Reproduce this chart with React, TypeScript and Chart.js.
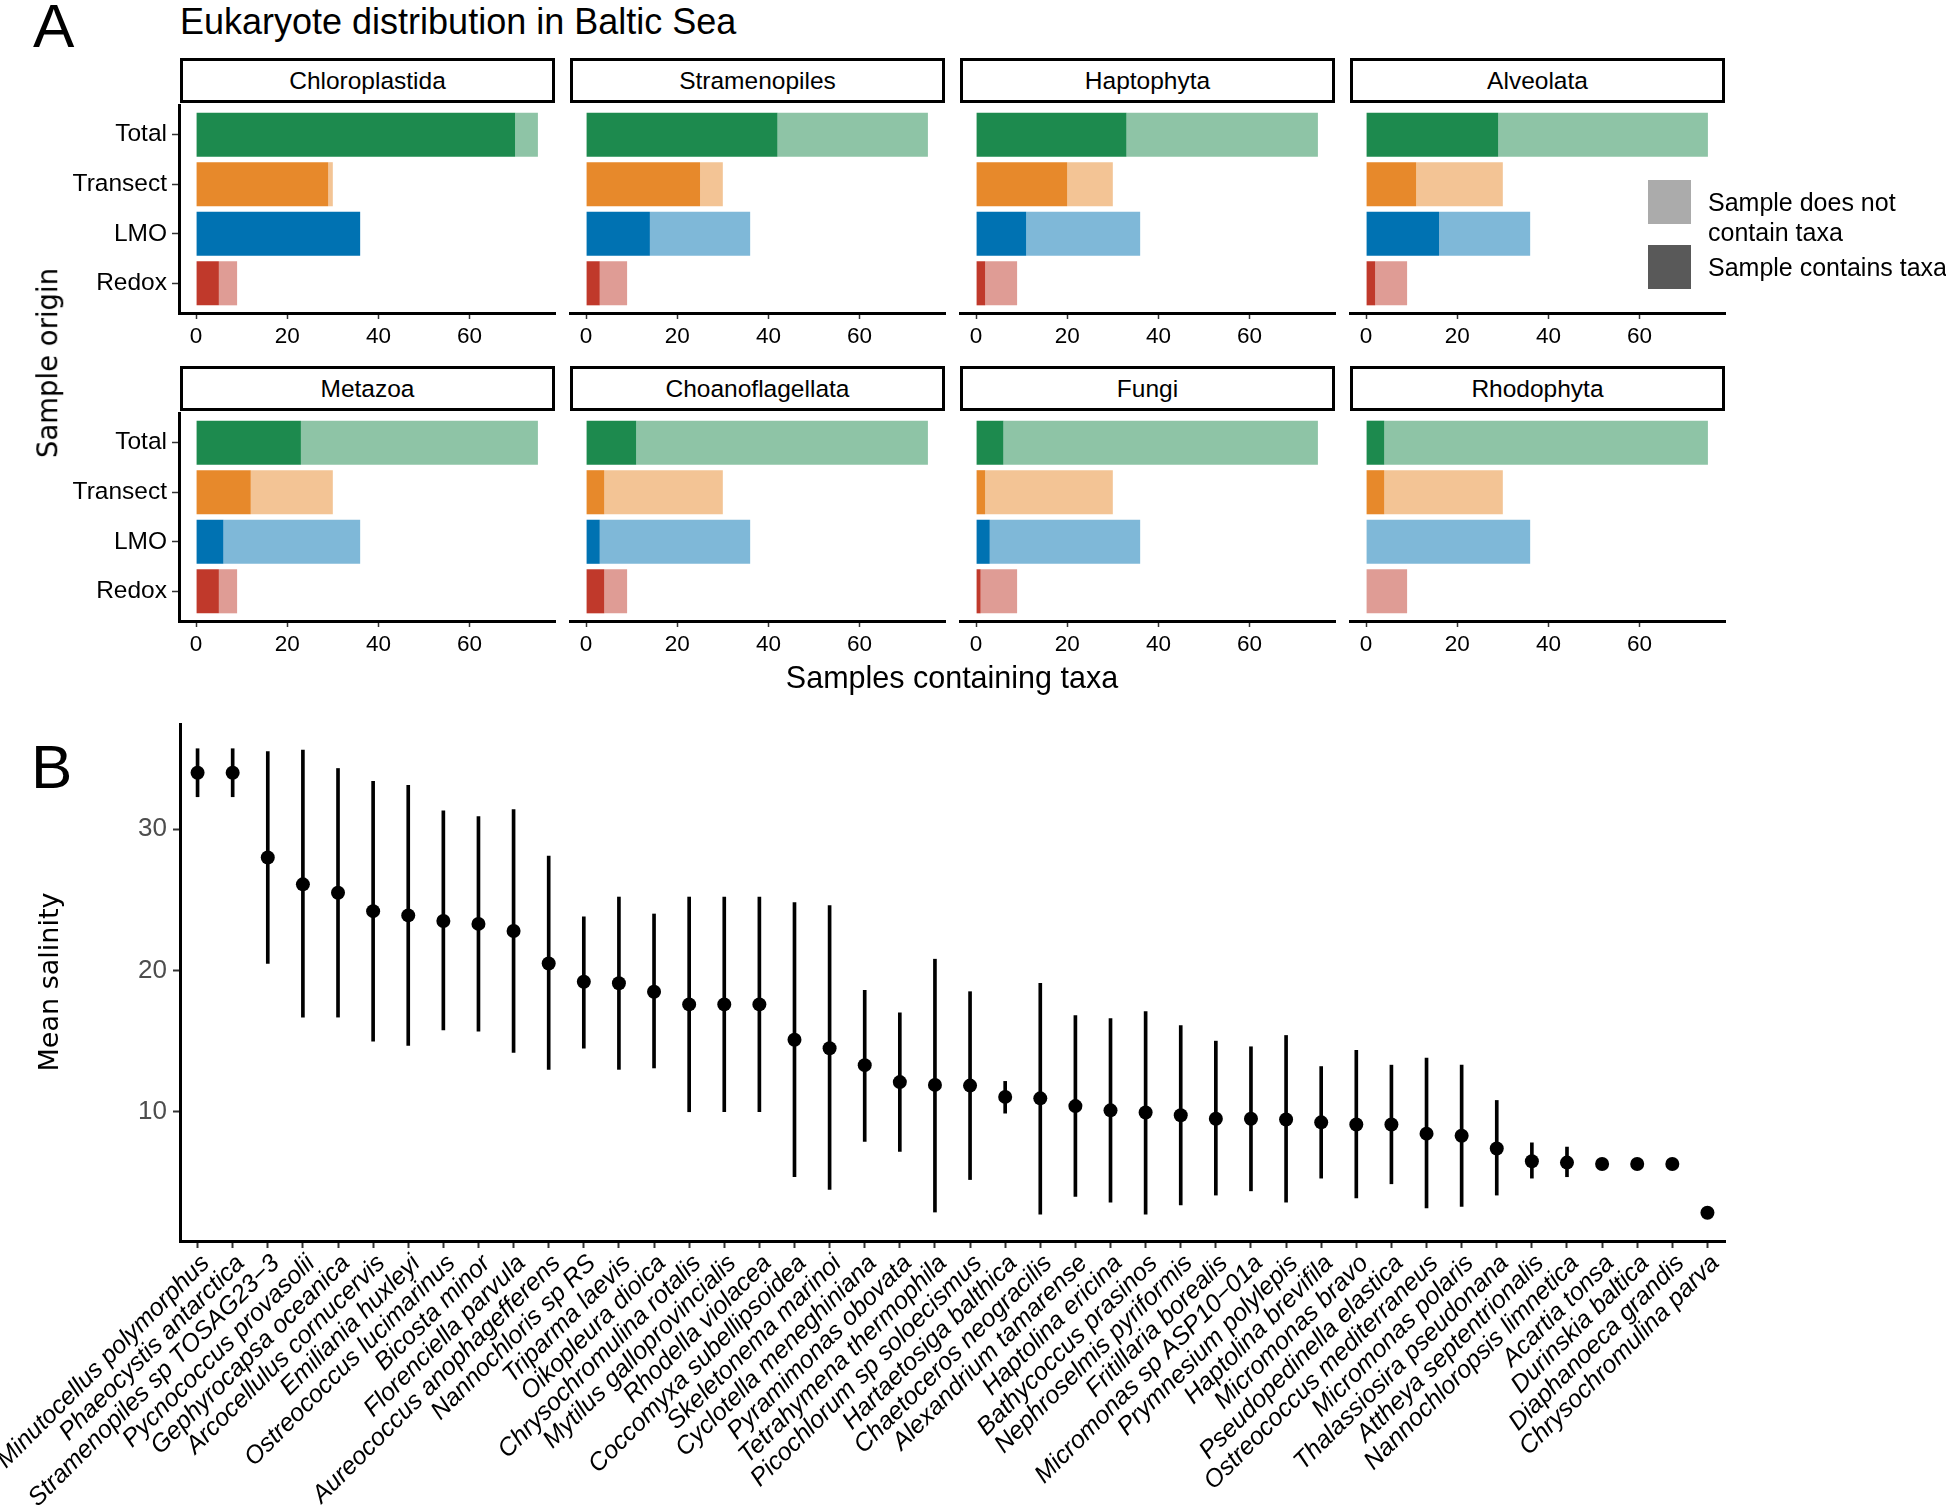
import React, { useEffect, useRef } from 'react';
import { Chart, registerables } from 'chart.js';

Chart.register(...registerables);

const SANS = '"Liberation Sans", Arial, Helvetica, sans-serif';
const DEJAVU = '"DejaVu Sans", sans-serif';

// ---------------- Panel A data ----------------
const taxa = ['Chloroplastida', 'Stramenopiles', 'Haptophyta', 'Alveolata', 'Metazoa', 'Choanoflagellata', 'Fungi', 'Rhodophyta'];
const origins = ['Total', 'Transect', 'LMO', 'Redox'];
const samplesPerOrigin = [75, 30, 36, 9];
const chloroplastidaPresent = [70, 29, 36, 5];
const stramenopilesPresent = [42, 25, 14, 3];
const haptophytaPresent = [33, 20, 11, 2];
const alveolataPresent = [29, 11, 16, 2];
const metazoaPresent = [23, 12, 6, 5];
const choanoflagellataPresent = [11, 4, 3, 4];
const fungiPresent = [6, 2, 3, 1];
const rhodophytaPresent = [4, 4, 0, 0];
const countTicks = [0, 20, 40, 60];
const presentByTaxon = [
  chloroplastidaPresent, stramenopilesPresent, haptophytaPresent, alveolataPresent,
  metazoaPresent, choanoflagellataPresent, fungiPresent, rhodophytaPresent,
];

// ---------------- Panel B data ----------------
const species = [
  'Minutocellus polymorphus', 'Phaeocystis antarctica', 'Stramenopiles sp TOSAG23\u22123', 'Pycnococcus provasolii',
  'Gephyrocapsa oceanica', 'Arcocellulus cornucervis', 'Emiliania huxleyi', 'Ostreococcus lucimarinus',
  'Bicosta minor', 'Florenciella parvula', 'Aureococcus anophagefferens', 'Nannochloris sp RS',
  'Triparma laevis', 'Oikopleura dioica', 'Chrysochromulina rotalis', 'Mytilus galloprovincialis',
  'Rhodella violacea', 'Coccomyxa subellipsoidea', 'Skeletonema marinoi', 'Cyclotella meneghiniana',
  'Pyramimonas obovata', 'Tetrahymena thermophila', 'Picochlorum sp soloecismus', 'Hartaetosiga balthica',
  'Chaetoceros neogracilis', 'Alexandrium tamarense', 'Haptolina ericina', 'Bathycoccus prasinos',
  'Nephroselmis pyriformis', 'Fritillaria borealis', 'Micromonas sp ASP10\u221201a', 'Prymnesium polylepis',
  'Haptolina brevifila', 'Micromonas bravo', 'Pseudopedinella elastica', 'Ostreococcus mediterraneus',
  'Micromonas polaris', 'Thalassiosira pseudonana', 'Attheya septentrionalis', 'Nannochloropsis limnetica',
  'Acartia tonsa', 'Durinskia baltica', 'Diaphanoeca grandis', 'Chrysochromulina parva',
];
const meanSalinity = [
  34.0, 34.0, 28.0, 26.1, 25.5, 24.2, 23.9, 23.5, 23.3, 22.8,
  20.5, 19.2, 19.1, 18.5, 17.6, 17.6, 17.6, 15.1, 14.5, 13.3,
  12.1, 11.9, 11.85, 11.05, 10.95, 10.4, 10.1, 9.95, 9.75, 9.5,
  9.5, 9.45, 9.25, 9.1, 9.1, 8.45, 8.3, 7.4, 6.5, 6.4,
  6.3, 6.3, 6.3, 2.85,
];
const salinityLow = [
  32.3, 32.3, 20.5, 16.7, 16.7, 15.0, 14.7, 15.8, 15.7, 14.2,
  13.0, 14.5, 13.0, 13.1, 10.0, 10.0, 10.0, 5.4, 4.5, 7.9,
  7.2, 2.9, 5.2, 9.9, 2.75, 4.0, 3.6, 2.75, 3.4, 4.1,
  4.4, 3.6, 5.3, 3.9, 4.9, 3.2, 3.3, 4.1, 5.3, 5.4,
  null, null, null, null,
];
const salinityHigh = [
  35.7, 35.7, 35.5, 35.6, 34.3, 33.4, 33.1, 31.3, 30.9, 31.4,
  28.1, 23.8, 25.2, 24.0, 25.2, 25.2, 25.2, 24.8, 24.6, 18.6,
  17.0, 20.8, 18.5, 12.15, 19.1, 16.8, 16.6, 17.1, 16.1, 15.0,
  14.6, 15.4, 13.2, 14.35, 13.3, 13.8, 13.3, 10.8, 7.8, 7.5,
  null, null, null, null,
];
const salinityTicks = [10, 20, 30];

// ---------------- styles ----------------
const darkColors = ['#1d8a4e', '#e7892b', '#0072b2', '#c0392b'];
const lightColors = ['#8ec4a6', '#f3c495', '#7fb8d8', '#df9c95'];

const PANEL_W = 376;
const PANEL_H = 208;
const TOP_PAD = 26;
const X_AXIS_H = 45;

function Facet({ index }: { index: number }) {
  const ref = useRef<HTMLCanvasElement>(null);
  const col = index % 4;
  const row = Math.floor(index / 4);
  const panelLeft = Math.round(178.5 + col * 390.3);
  const stripBottom = row === 0 ? 103 : 411;
  const areaTop = stripBottom + 2;
  const showY = col === 0;
  const yW = showY ? 150 : 0;
  const canvasLeft = panelLeft - yW;
  const width = yW + PANEL_W + 20;
  const height = TOP_PAD + PANEL_H + X_AXIS_H;
  const present = presentByTaxon[index];

  useEffect(() => {
    const chart = new Chart(ref.current as HTMLCanvasElement, {
      type: 'bar',
      data: {
        datasets: [
          {
            data: origins.map((_, i) => ({ x: [0, present[i]], y: i })) as any,
            backgroundColor: darkColors,
            borderWidth: 0,
            grouped: false,
            categoryPercentage: 1,
            barPercentage: 0.89,
            order: 0,
          } as any,
          {
            data: origins.map((_, i) => ({ x: [present[i], samplesPerOrigin[i]], y: i })) as any,
            backgroundColor: lightColors,
            borderWidth: 0,
            grouped: false,
            categoryPercentage: 1,
            barPercentage: 0.89,
            order: 1,
          } as any,
        ],
      },
      options: {
        indexAxis: 'y',
        animation: false,
        responsive: false,
        maintainAspectRatio: false,
        events: [],
        layout: { padding: { left: 0, right: 20, top: TOP_PAD, bottom: 0 } },
        plugins: { legend: { display: false }, tooltip: { enabled: false } },
        scales: {
          x: {
            type: 'linear',
            min: -3.75,
            max: 78.75,
            afterBuildTicks: (s: any) => { s.ticks = countTicks.map((v) => ({ value: v })); },
            afterFit: (s: any) => { s.height = X_AXIS_H; },
            grid: { drawOnChartArea: false, drawTicks: true, tickLength: 6, tickColor: '#333', tickWidth: 1.5 },
            border: { display: true, color: '#000', width: 3 },
            ticks: { color: '#000', font: { family: SANS, size: 22.5 }, padding: 4, maxRotation: 0 },
          },
          y: {
            type: 'linear',
            reverse: true,
            offset: false,
            min: -0.6,
            max: 3.6,
            display: showY,
            afterBuildTicks: (s: any) => { s.ticks = origins.map((_, i) => ({ value: i })); },
            afterFit: (s: any) => { s.width = yW; },
            grid: { drawOnChartArea: false, drawTicks: true, tickLength: 7, tickColor: '#333', tickWidth: 1.5, offset: false },
            border: { display: true, color: '#000', width: 3 },
            ticks: {
              color: '#000',
              font: { family: SANS, size: 24.5 },
              padding: 5,
              callback: (v: any) => origins[Math.round(Number(v))],
            },
          },
        },
      } as any,
    });
    return () => chart.destroy();
  }, []);

  return (
    <>
      <canvas
        ref={ref}
        width={width}
        height={height}
        style={{ position: 'absolute', left: canvasLeft, top: areaTop - TOP_PAD, width, height, display: 'block' }}
      />
      <div
        style={{
          position: 'absolute',
          left: panelLeft + 1,
          top: stripBottom - 45,
          width: PANEL_W - 1,
          height: 45,
          border: '3px solid #000',
          boxSizing: 'border-box',
          display: 'flex',
          alignItems: 'center',
          justifyContent: 'center',
          fontFamily: SANS,
          fontSize: 24.5,
          color: '#000',
          background: '#fff',
        }}
      >
        {taxa[index]}
      </div>
    </>
  );
}

function SalinityChart() {
  const ref = useRef<HTMLCanvasElement>(null);
  const W = 1966;
  const H = 816;
  useEffect(() => {
    const chart = new Chart(ref.current as HTMLCanvasElement, {
      type: 'bar',
      data: {
        labels: species,
        datasets: [
          {
            type: 'line',
            data: meanSalinity,
            showLine: false,
            pointRadius: 7,
            pointBackgroundColor: '#000',
            pointBorderWidth: 0,
            pointBorderColor: '#000',
            order: 0,
          } as any,
          {
            type: 'bar',
            data: species.map((_, i) =>
              salinityLow[i] == null ? null : [salinityLow[i], salinityHigh[i]]
            ) as any,
            backgroundColor: '#000',
            borderWidth: 0,
            barThickness: 3,
            order: 1,
          } as any,
        ],
      },
      options: {
        animation: false,
        responsive: false,
        maintainAspectRatio: false,
        events: [],
        layout: { padding: { left: 0, right: 221, top: 34, bottom: 0 } },
        plugins: { legend: { display: false }, tooltip: { enabled: false } },
        scales: {
          x: {
            type: 'category',
            offset: true,
            afterFit: (s: any) => { s.height = 265; },
            grid: { drawOnChartArea: false, drawTicks: true, tickLength: 7, tickColor: '#333', tickWidth: 2, offset: false },
            border: { display: true, color: '#000', width: 3 },
            ticks: {
              autoSkip: false,
              minRotation: 45,
              maxRotation: 45,
              color: '#000',
              padding: 1,
              labelOffset: 8,
              font: { family: SANS, size: 25, style: 'italic' },
            },
          },
          y: {
            type: 'linear',
            min: 0.85,
            max: 37.45,
            afterBuildTicks: (s: any) => { s.ticks = salinityTicks.map((v) => ({ value: v })); },
            afterFit: (s: any) => { s.width = 200; },
            grid: { drawOnChartArea: false, drawTicks: true, tickLength: 7, tickColor: '#333', tickWidth: 2 },
            border: { display: true, color: '#000', width: 3 },
            ticks: { color: '#4d4d4d', font: { family: SANS, size: 26 }, padding: 6 },
          },
        },
      } as any,
    });
    return () => chart.destroy();
  }, []);
  return (
    <canvas
      ref={ref}
      width={W}
      height={H}
      style={{ position: 'absolute', left: -20, top: 690, width: W, height: H, display: 'block' }}
    />
  );
}

function Text({ x, y, size, text, family = SANS, align = 'left' }: any) {
  const transform = align === 'center' ? 'translateX(-50%)' : align === 'right' ? 'translateX(-100%)' : undefined;
  return (
    <div
      style={{
        position: 'absolute',
        left: x,
        top: y - 0.8465 * size,
        fontSize: size,
        lineHeight: `${size}px`,
        fontFamily: family,
        color: '#000',
        whiteSpace: 'nowrap',
        transform,
      }}
    >
      {text}
    </div>
  );
}

function VText({ cx, cy, size, text, family = SANS }: any) {
  return (
    <div
      style={{
        position: 'absolute',
        left: cx,
        top: cy,
        fontSize: size,
        lineHeight: `${size}px`,
        fontFamily: family,
        color: '#000',
        whiteSpace: 'nowrap',
        transform: 'translate(-50%, -50%) rotate(-90deg)',
      }}
    >
      {text}
    </div>
  );
}

export default function App() {
  return (
    <div
      style={{
        position: 'absolute',
        left: 0,
        top: 0,
        width: 1946,
        height: 1506,
        overflow: 'hidden',
        background: '#fff',
        fontFamily: SANS,
      }}
    >
      <Text x={33} y={47} size={62} text="A" />
      <Text x={180} y={34} size={36} text="Eukaryote distribution in Baltic Sea" />
      {taxa.map((_, i) => (
        <Facet key={i} index={i} />
      ))}
      <VText cx={48} cy={363} size={27.5} text="Sample origin" family={DEJAVU} />
      <Text x={952} y={688} size={30.5} text="Samples containing taxa" align="center" />

      <div style={{ position: 'absolute', left: 1648, top: 180, width: 43, height: 44, background: '#ababab' }} />
      <div style={{ position: 'absolute', left: 1648, top: 245, width: 43, height: 44, background: '#595959' }} />
      <Text x={1708} y={211} size={25} text="Sample does not" />
      <Text x={1708} y={241} size={25} text="contain taxa" />
      <Text x={1708} y={276} size={25} text="Sample contains taxa" />

      <SalinityChart />
      <Text x={31} y={788} size={62} text="B" />
      <VText cx={48} cy={982} size={27} text="Mean salinity" family={DEJAVU} />
    </div>
  );
}
